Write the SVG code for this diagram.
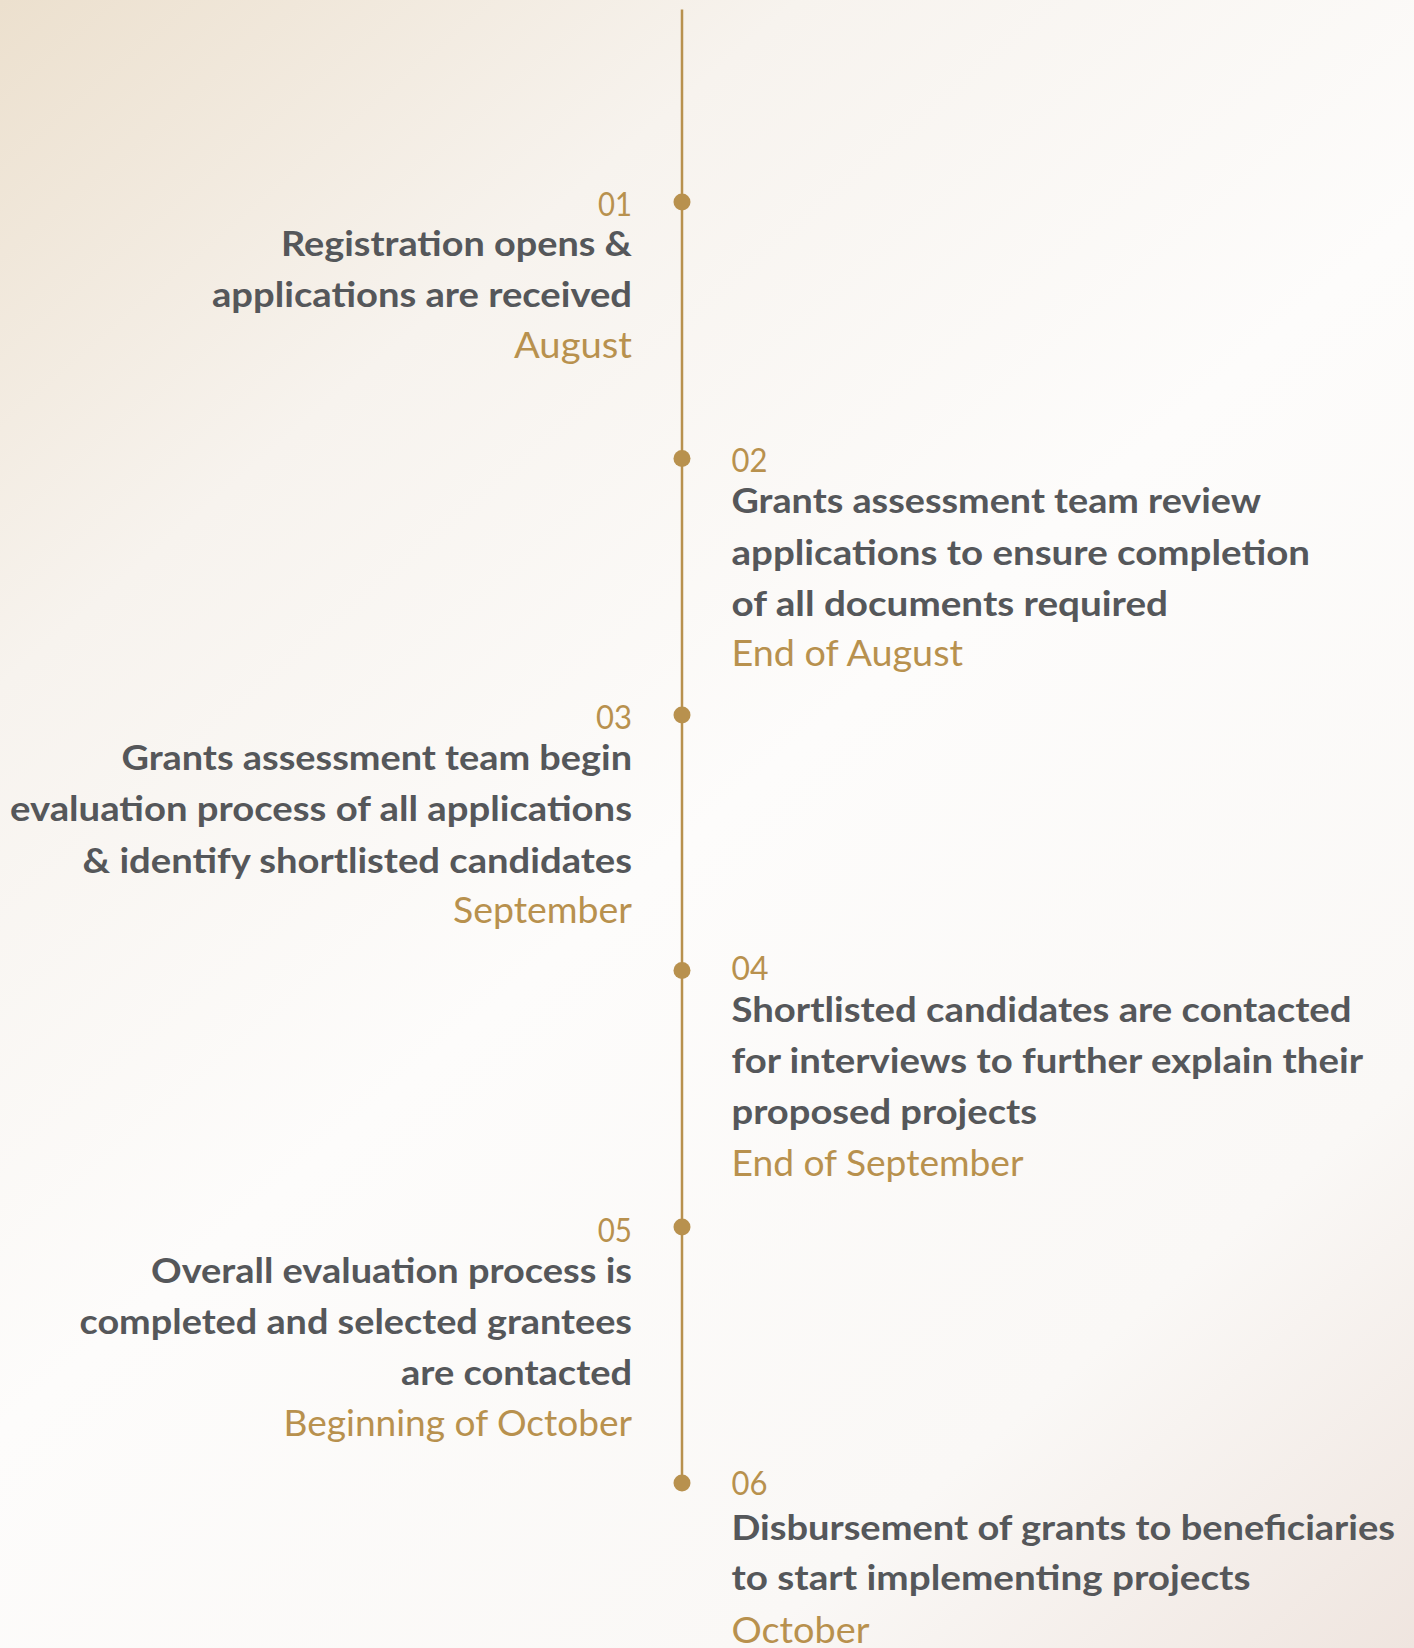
<svg xmlns="http://www.w3.org/2000/svg" width="1414" height="1648" viewBox="0 0 1414 1648">
<defs>
<linearGradient id="bg" gradientUnits="userSpaceOnUse" x1="0" y1="0" x2="1414" y2="1648">
<stop offset="0" stop-color="#ECE0CE"/>
<stop offset="0.24" stop-color="#F7F3EE"/>
<stop offset="0.5" stop-color="#FDFCFB"/>
<stop offset="0.8" stop-color="#FAF8F6"/>
<stop offset="1" stop-color="#EFE5DF"/>
</linearGradient>
<style>
.num{font-family:Lato,"Liberation Sans",sans-serif;font-weight:400;font-size:32px;fill:#B8914E}
.date{font-family:Lato,"Liberation Sans",sans-serif;font-weight:400;font-size:36px;fill:#B8914E}
.ttl{font-family:Lato,"Liberation Sans",sans-serif;font-weight:700;font-size:35px;fill:#55575A}
.l text{text-anchor:end}
.r text{text-anchor:start}
.dot{fill:#B8914E}
.line{stroke:#B8914E;stroke-width:2.5;fill:none}
</style>
</defs>
<rect width="1414" height="1648" fill="url(#bg)"/>
<g id="connectors">
<line class="line" x1="682" y1="9.5" x2="682" y2="1483"/>
</g>
<g id="step01" class="l">
<circle class="dot" cx="682" cy="202" r="8.5"/>
<text class="num" x="632" y="216" textLength="34" lengthAdjust="spacingAndGlyphs">01</text>
<text class="ttl" x="632" y="255.5" textLength="351" lengthAdjust="spacingAndGlyphs">Registration opens &amp;</text>
<text class="ttl" x="632" y="307" textLength="420" lengthAdjust="spacingAndGlyphs">applications are received</text>
<text class="date" x="632" y="357.5" textLength="118" lengthAdjust="spacingAndGlyphs">August</text>
</g>
<g id="step02" class="r">
<circle class="dot" cx="682" cy="458.5" r="8.5"/>
<text class="num" x="731.5" y="471.5" textLength="36" lengthAdjust="spacingAndGlyphs">02</text>
<text class="ttl" x="731.5" y="513" textLength="529.5" lengthAdjust="spacingAndGlyphs">Grants assessment team review</text>
<text class="ttl" x="731.5" y="564.5" textLength="578.5" lengthAdjust="spacingAndGlyphs">applications to ensure completion</text>
<text class="ttl" x="731.5" y="615.5" textLength="436.5" lengthAdjust="spacingAndGlyphs">of all documents required</text>
<text class="date" x="731.5" y="665.5" textLength="231.5" lengthAdjust="spacingAndGlyphs">End of August</text>
</g>
<g id="step03" class="l">
<circle class="dot" cx="682" cy="715" r="8.5"/>
<text class="num" x="632" y="729" textLength="36" lengthAdjust="spacingAndGlyphs">03</text>
<text class="ttl" x="632" y="770" textLength="510.5" lengthAdjust="spacingAndGlyphs">Grants assessment team begin</text>
<text class="ttl" x="632" y="820.5" textLength="622" lengthAdjust="spacingAndGlyphs">evaluation process of all applications</text>
<text class="ttl" x="632" y="872.5" textLength="549.5" lengthAdjust="spacingAndGlyphs">&amp; identify shortlisted candidates</text>
<text class="date" x="632" y="922.5" textLength="179" lengthAdjust="spacingAndGlyphs">September</text>
</g>
<g id="step04" class="r">
<circle class="dot" cx="682" cy="970.5" r="8.5"/>
<text class="num" x="731.5" y="980" textLength="37" lengthAdjust="spacingAndGlyphs">04</text>
<text class="ttl" x="731.5" y="1022" textLength="620" lengthAdjust="spacingAndGlyphs">Shortlisted candidates are contacted</text>
<text class="ttl" x="731.5" y="1073" textLength="631.5" lengthAdjust="spacingAndGlyphs">for interviews to further explain their</text>
<text class="ttl" x="731.5" y="1124" textLength="305.5" lengthAdjust="spacingAndGlyphs">proposed projects</text>
<text class="date" x="731.5" y="1175.5" textLength="292" lengthAdjust="spacingAndGlyphs">End of September</text>
</g>
<g id="step05" class="l">
<circle class="dot" cx="682" cy="1227" r="8.5"/>
<text class="num" x="632" y="1242" textLength="34.3" lengthAdjust="spacingAndGlyphs">05</text>
<text class="ttl" x="632" y="1283" textLength="481" lengthAdjust="spacingAndGlyphs">Overall evaluation process is</text>
<text class="ttl" x="632" y="1333.5" textLength="552.5" lengthAdjust="spacingAndGlyphs">completed and selected grantees</text>
<text class="ttl" x="632" y="1385" textLength="231" lengthAdjust="spacingAndGlyphs">are contacted</text>
<text class="date" x="632" y="1435.5" textLength="348.5" lengthAdjust="spacingAndGlyphs">Beginning of October</text>
</g>
<g id="step06" class="r">
<circle class="dot" cx="682" cy="1483" r="8.5"/>
<text class="num" x="731.5" y="1495" textLength="36" lengthAdjust="spacingAndGlyphs">06</text>
<text class="ttl" x="731.5" y="1540" textLength="663.5" lengthAdjust="spacingAndGlyphs">Disbursement of grants to beneficiaries</text>
<text class="ttl" x="731.5" y="1590" textLength="519" lengthAdjust="spacingAndGlyphs">to start implementing projects</text>
<text class="date" x="731.5" y="1643" textLength="138" lengthAdjust="spacingAndGlyphs">October</text>
</g>
</svg>
